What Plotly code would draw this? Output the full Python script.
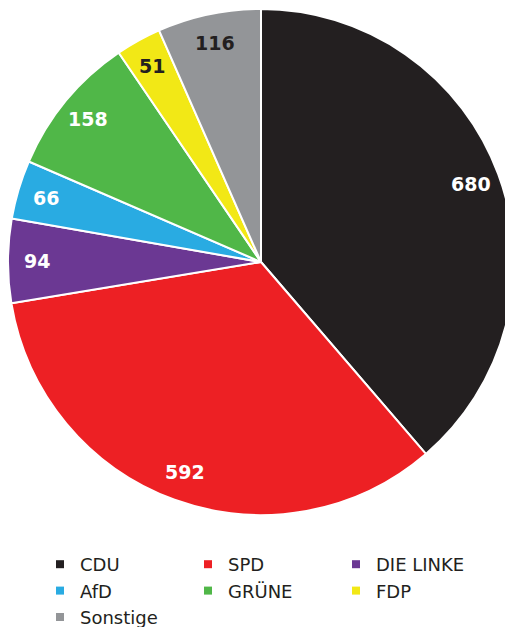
import math
import plotly.graph_objects as go

parties = ["CDU", "SPD", "DIE LINKE", "AfD", "GRÜNE", "FDP", "Sonstige"]
values = [680, 592, 94, 66, 158, 51, 116]
colors = ["#231f20", "#ed2024", "#6b3893", "#29abe2", "#50b748", "#f2e816", "#939598"]
label_colors = ["white", "white", "white", "white", "white", "#231f20", "#231f20"]

W, H = 513, 627
dom_x = [0.0, 506 / W]
dom_y = [(H - 508) / H, 1.0]

fig = go.Figure()
fig.add_trace(go.Pie(
    labels=parties, values=values, sort=False, direction="clockwise", rotation=0,
    marker=dict(colors=colors, line=dict(color="white", width=2)),
    textinfo="none", hoverinfo="label+value",
    domain=dict(x=dom_x, y=dom_y), showlegend=False,
))

# legend entries as small square markers
for p, c in zip(parties, colors):
    fig.add_trace(go.Scatter(x=[None], y=[None], mode="markers", name=p,
                             marker=dict(symbol="square", size=8, color=c)))

# value labels placed along each slice's mid-angle
total = sum(values)
cx = (dom_x[0] + dom_x[1]) / 2
cy = (dom_y[0] + dom_y[1]) / 2
R = min((dom_x[1] - dom_x[0]) * W, (dom_y[1] - dom_y[0]) * H) / 2
cum = 0
for v, lc in zip(values, label_colors):
    mid = (cum + v / 2) / total * 2 * math.pi
    cum += v
    rr = 0.885 * R
    fig.add_annotation(
        x=cx + rr * math.sin(mid) / W, y=cy + rr * math.cos(mid) / H,
        xref="paper", yref="paper", xanchor="center", yanchor="middle",
        text=f"<b>{v}</b>", showarrow=False,
        font=dict(family="DejaVu Sans", size=19, color=lc),
    )

fig.update_layout(
    width=W, height=H, margin=dict(l=0, r=0, t=0, b=0, autoexpand=False),
    paper_bgcolor="white", plot_bgcolor="white",
    xaxis=dict(visible=False), yaxis=dict(visible=False),
    font=dict(family="DejaVu Sans", size=18, color="#231f20"),
    legend=dict(orientation="h", x=32 / W, xanchor="left", y=(H - 538) / H, yanchor="top",
                entrywidth=103, entrywidthmode="pixels", itemwidth=30,
                font=dict(family="DejaVu Sans", size=18, color="#231f20"),
                bgcolor="rgba(0,0,0,0)"),
)

fig.write_html("out.html")
